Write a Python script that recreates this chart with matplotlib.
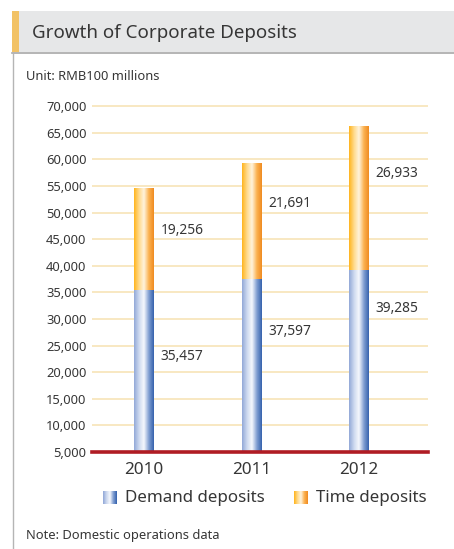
import numpy as np
import matplotlib.pyplot as plt
from matplotlib.patches import Rectangle
from matplotlib.colors import LinearSegmentedColormap

plt.rcParams['font.family'] = ['Noto Sans', 'DejaVu Sans']

years = ["2010", "2011", "2012"]
demand = [35457, 37597, 39285]
time_dep = [19256, 21691, 26933]
yticks = list(range(5000, 70001, 5000))

TEXT = "#363636"
GRID = "#f7e1b1"

blue_cmap = LinearSegmentedColormap.from_list(
    "blue", ["#93a9d8", "#cdd9ef", "#f6f8fd", "#819fd2", "#3763ae"])
orange_cmap = LinearSegmentedColormap.from_list(
    "orange", ["#ffb51f", "#ffda8c", "#fff4de", "#fbb251", "#f08c22"])


def fill_gradient(ax, patch, cmap):
    # paint a left-to-right gradient inside the bar, kept within the y limits
    lo, hi = ax.get_ylim()
    x0, y0 = patch.get_x(), patch.get_y()
    w, h = patch.get_width(), patch.get_height()
    yb, yt = max(y0, lo), min(y0 + h, hi)
    grad = np.linspace(0, 1, 64).reshape(1, -1)
    im = ax.imshow(grad, cmap=cmap, aspect="auto", extent=(x0, x0 + w, yb, yt),
                   zorder=patch.get_zorder(), interpolation="bilinear")
    im.set_clip_path(patch)


def main():
    fig = plt.figure(figsize=(4.54, 5.49), dpi=100)
    W, H = 454, 549

    # header band
    fig.patches.append(Rectangle((12 / W, 1 - 52 / H), 1, 41 / H, transform=fig.transFigure,
                                 facecolor="#e6e7e8", edgecolor="none"))
    fig.patches.append(Rectangle((12 / W, 1 - 52 / H), 7 / W, 41 / H, transform=fig.transFigure,
                                 facecolor="#f2c265", edgecolor="none"))
    fig.add_artist(plt.Line2D([12 / W, 1], [1 - 52.5 / H, 1 - 52.5 / H], transform=fig.transFigure,
                              color="#a8a8a8", lw=1.2))
    fig.add_artist(plt.Line2D([12.5 / W, 12.5 / W], [0, 1 - 52.5 / H], transform=fig.transFigure,
                              color="#b5b5b5", lw=1.0))
    fig.text(32 / W, 1 - 33 / H, "Growth of Corporate Deposits", fontsize=13.5,
             color=TEXT, va="center", ha="left")
    fig.text(26 / W, 1 - 77 / H, "Unit: RMB100 millions", fontsize=9.3, color=TEXT, va="center")
    fig.text(26 / W, 1 - 535 / H, "Note: Domestic operations data", fontsize=9.3, color=TEXT,
             va="center")

    ymin, ymax = 5000, 71000
    bottom_px = 452
    px_per_unit = 26.6 / 5000
    top_px = bottom_px - (ymax - ymin) * px_per_unit
    ax = fig.add_axes([92 / W, 1 - bottom_px / H, 336 / W, (bottom_px - top_px) / H])
    ax.set_xlim(-0.484, 2.64)
    ax.set_ylim(ymin, ymax)
    for s in ax.spines.values():
        s.set_visible(False)

    x = np.arange(len(years))
    width = 0.18
    for t in yticks:
        ax.axhline(t, color=GRID, lw=1.1, zorder=0)

    b1 = ax.bar(x, demand, width, color="#7d9bd0", zorder=2)
    b2 = ax.bar(x, time_dep, width, bottom=demand, color="#fbb150", zorder=2)
    for p in b1:
        fill_gradient(ax, p, blue_cmap)
    for p in b2:
        fill_gradient(ax, p, orange_cmap)

    ax.axhline(5000, color="#b01c24", lw=2.6, zorder=5, clip_on=False)

    # value labels beside each segment
    demand_label_y = [22900, 27700, 31900]
    time_label_y = [46700, 51800, 57400]
    for i in range(len(years)):
        ax.text(x[i] + 0.155, demand_label_y[i], f"{demand[i]:,}", fontsize=9.9, color=TEXT,
                va="center", ha="left")
        ax.text(x[i] + 0.155, time_label_y[i], f"{time_dep[i]:,}", fontsize=9.9, color=TEXT,
                va="center", ha="left")

    ax.set_yticks(yticks)
    ax.set_yticklabels([f"{t:,}" for t in yticks], fontsize=9.3, color=TEXT)
    ax.set_xticks(x)
    ax.set_xticklabels(years, fontsize=12.3, color=TEXT)
    ax.tick_params(axis="both", length=0)
    ax.tick_params(axis="y", pad=4)
    ax.tick_params(axis="x", pad=7)

    # legend swatches
    lx = fig.add_axes([0, 0, 1, 1], facecolor="none")
    lx.set_axis_off()
    for (x0, cmap, label) in [(103, blue_cmap, "Demand deposits"), (294, orange_cmap, "Time deposits")]:
        sw = Rectangle((x0, 491), 14, 13, facecolor="none", edgecolor="none")
        lx.add_patch(sw)
        grad = np.linspace(0, 1, 32).reshape(1, -1)
        im = lx.imshow(grad, cmap=cmap, aspect="auto", extent=(x0, x0 + 14, 504, 491),
                       interpolation="bilinear")
        im.set_clip_path(sw)
        lx.text(x0 + 22, 497.5, label, fontsize=12.2, color=TEXT, va="center", ha="left")
    lx.set_xlim(0, W)
    lx.set_ylim(H, 0)

    fig.savefig("out.png", dpi=100)


if __name__ == '__main__':
    main()
